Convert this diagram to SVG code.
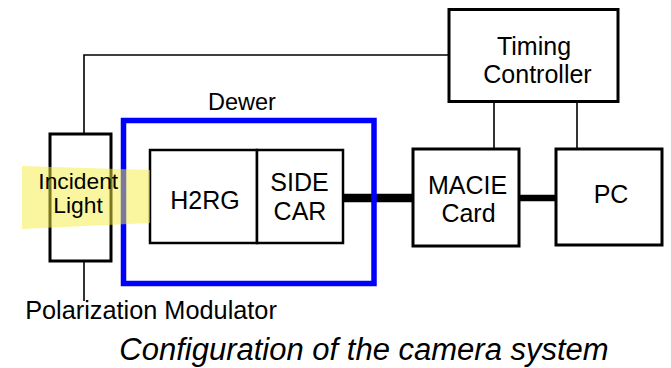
<svg xmlns="http://www.w3.org/2000/svg" width="671" height="368" viewBox="0 0 671 368">
<style>
text{font-family:"Liberation Sans",Arial,sans-serif;fill:#000;text-anchor:middle}
.box{fill:#fff;stroke:#000;stroke-width:3}
.thin{fill:none;stroke:#000;stroke-width:1.6}
.bus{fill:none;stroke:#000}
.lbl{font-size:25px}
</style>
<rect width="671" height="368" fill="#fff"/>
<g id="connectors">
<polyline class="thin" points="84,134 84,55 449,55"/>
<line class="thin" x1="84" y1="261" x2="84" y2="301"/>
<line class="thin" x1="494" y1="102" x2="494" y2="149"/>
<line class="thin" x1="577" y1="102" x2="577" y2="149"/>
<line class="bus" x1="343" y1="198" x2="413" y2="198" stroke-width="8.5"/>
<line class="bus" x1="519" y1="198" x2="556" y2="198" stroke-width="6.5"/>
</g>
<g id="modulator">
<rect class="box" x="50" y="134" width="61" height="127"/>
</g>
<g id="dewer">
<rect x="123.5" y="120.5" width="250.5" height="163" fill="none" stroke="#0000ff" stroke-width="5.5"/>
<text x="242" y="110" font-size="23.5">Dewer</text>
</g>
<g id="h2rg">
<rect x="150" y="150" width="107" height="93" fill="#fff" stroke="#000" stroke-width="2.5"/>
<text class="lbl" x="205" y="209">H2RG</text>
</g>
<g id="sidecar">
<rect x="257" y="150" width="86" height="93" fill="#fff" stroke="#000" stroke-width="2.5"/>
<text class="lbl" x="299.5" y="191">SIDE</text>
<text class="lbl" x="300" y="220">CAR</text>
</g>
<g id="timing">
<rect class="box" x="449" y="9.5" width="169" height="92"/>
<text class="lbl" x="534" y="55">Timing</text>
<text class="lbl" x="537.5" y="83">Controller</text>
</g>
<g id="macie">
<rect class="box" x="413" y="149" width="106" height="97"/>
<text class="lbl" x="467.5" y="194">MACIE</text>
<text class="lbl" x="468.5" y="222">Card</text>
</g>
<g id="pc">
<rect class="box" x="556" y="149" width="106" height="96"/>
<text class="lbl" x="611" y="203">PC</text>
</g>
<g id="light">
<polygon points="22,166 150,170 150,223 22,229" fill="#f5ee40" fill-opacity="0.5"/>
<text x="78.3" y="189" font-size="22.8">Incident</text>
<text x="78" y="213" font-size="22.8">Light</text>
</g>
<text x="151" y="319" font-size="25.3">Polarization Modulator</text>
<text x="364" y="360" font-size="31" font-style="italic">Configuration of the camera system</text>
</svg>
